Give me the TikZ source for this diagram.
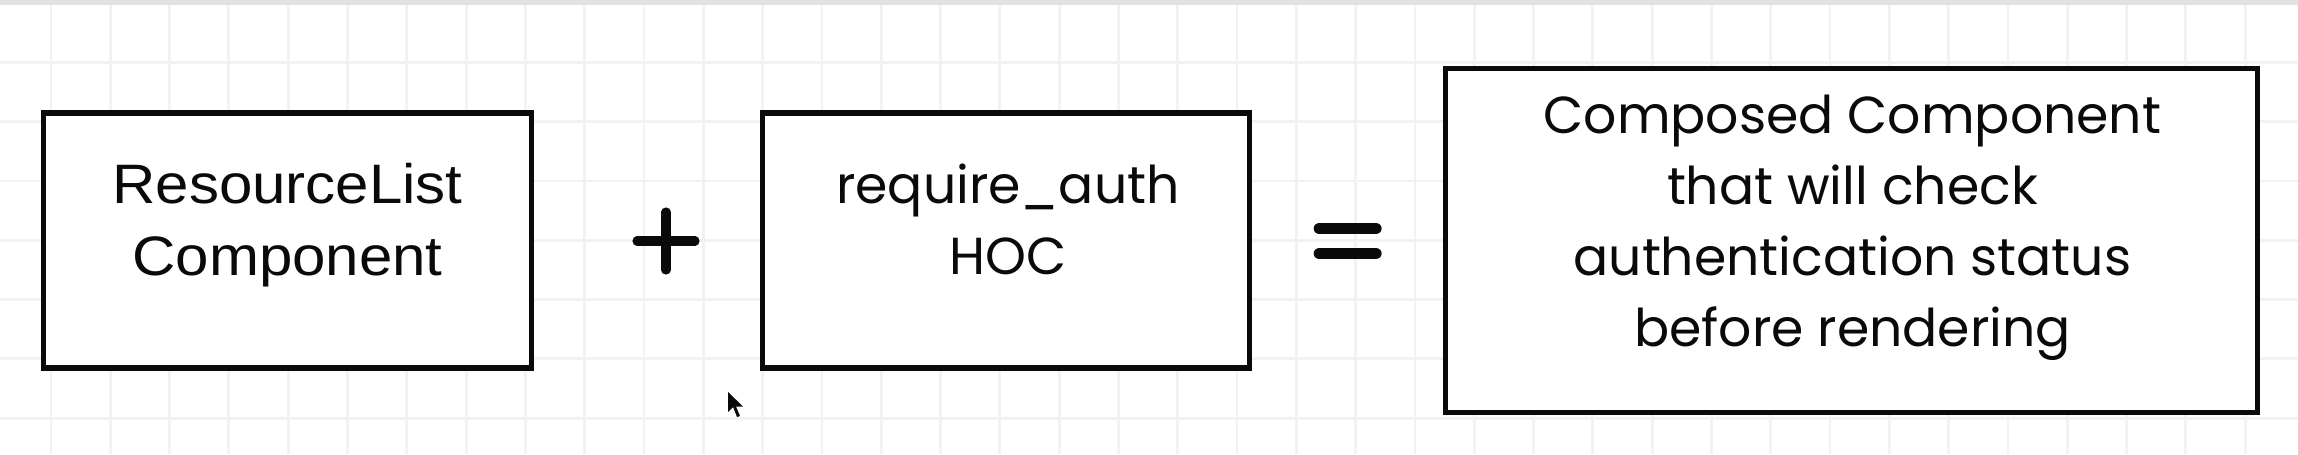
\documentclass[tikz,border=0pt]{standalone}
\usepackage{fontspec}
\setmainfont{Poppins}
\newfontfamily\arialfont[FakeStretch=1.08]{Liberation Sans}
\usetikzlibrary{positioning,calc}
\definecolor{gridgray}{HTML}{F2F2F2}
\definecolor{topbar}{HTML}{E2E2E2}
\definecolor{ink}{HTML}{0A0A0A}
\tikzset{
  compbox/.style={
    draw=ink,
    line width=1.5pt,
    fill=white,
    minimum width=4.87cm,
    minimum height=2.55cm,
    inner sep=0pt,
    outer sep=0pt
  },
  boxtext/.style={
    align=center,
    inner sep=0pt,
    text=ink,
    font=\fontsize{14.8pt}{20.2pt}\selectfont
  },
  gridline/.style={draw=gridgray,line width=0.8pt},
  opbar/.style={draw=ink,line width=2.6pt,line cap=round}
}

\begin{document}
\begin{tikzpicture}[x=0.01cm,y=-0.01cm]
\useasboundingbox (0,0) rectangle (2298,454);
\fill[white] (0,0) rectangle (2298,454);
% grid paper
\foreach \gx in {0,...,38} \draw[gridline] ({51+59.3*\gx},0) -- ({51+59.3*\gx},454);
\foreach \gy in {0,...,7} \draw[gridline] (0,{3+59.3*\gy}) -- (2298,{3+59.3*\gy});
\fill[topbar] (0,0) rectangle (2298,5);

\node[compbox] (resource) at (287.5,240.5) {};
\node[compbox,right=2.31cm of resource] (hoc) {};
\node[compbox,right=1.96cm of hoc,minimum width=8.11cm,minimum height=3.44cm] (composed) {};

\node[boxtext,font=\arialfont\fontsize{15.8pt}{20.5pt}\selectfont] (resourcetext) at ($(resource.center)+(0,-15)$) {ResourceList\\Component};
\node[boxtext] (hoctext) at ($(hoc.center)+(2,-21)$) {require\_auth\\HOC};
\node[boxtext] (composedtext) at ($(composed.center)+(1,-13)$) {Composed Component\\that will check\\authentication status\\before rendering};

% plus and equals signs
\coordinate (plus) at (666,241);
\draw[opbar] ($(plus)+(-29,0)$) -- ($(plus)+(29,0)$);
\draw[opbar] ($(plus)+(0,-29)$) -- ($(plus)+(0,29)$);
\coordinate (equals) at ($(hoc.east)!0.5!(composed.west)$);
\draw[opbar,line width=3.4pt] ($(equals)+(-28,-12)$) -- ($(equals)+(28,-12)$);
\draw[opbar,line width=3.4pt] ($(equals)+(-28,13)$) -- ($(equals)+(28,13)$);

% mouse pointer
\fill[ink] (728,392) -- ++(0,20) -- ++(5,-5) -- ++(4,10) -- ++(3,-1) -- ++(-4,-9.5) -- ++(7,0) -- cycle;
\end{tikzpicture}
\end{document}
